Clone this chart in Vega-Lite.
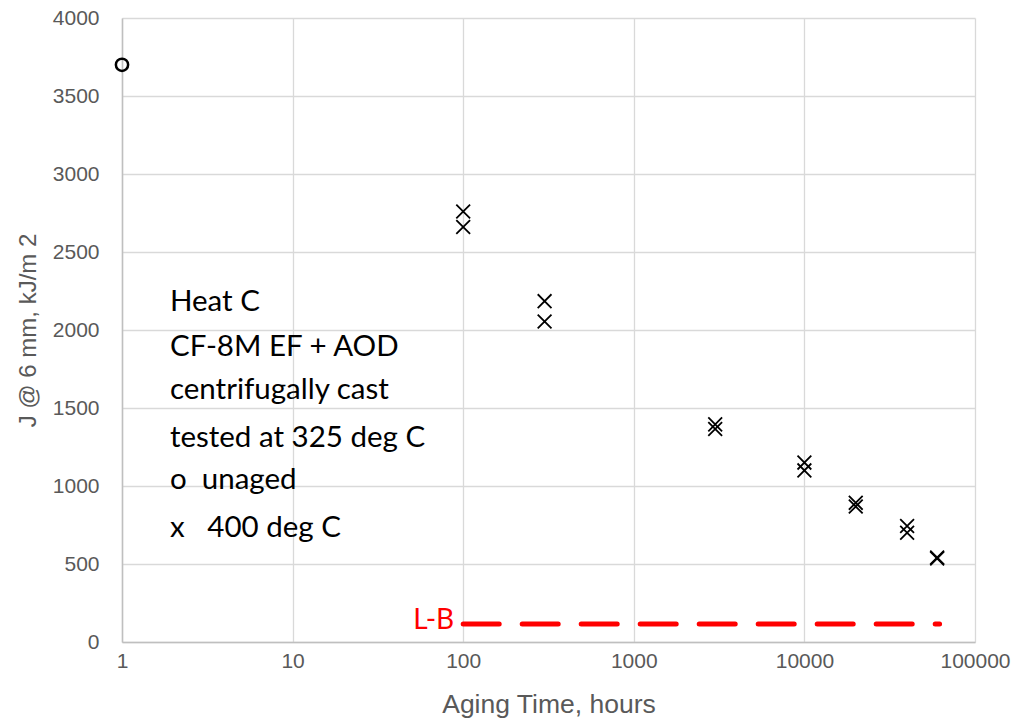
{
  "$schema": "https://vega.github.io/schema/vega-lite/v6.json",
  "width": 853,
  "height": 624,
  "autosize": "none",
  "padding": {"left": 122, "top": 18, "right": 45, "bottom": 81},
  "background": "white",
  "config": {
    "view": {"stroke": null},
    "axis": {"labelFont": "Liberation Sans", "titleFont": "Liberation Sans", "labelColor": "#595959", "titleColor": "#595959", "titleFontWeight": "normal", "gridColor": "#d9d9d9", "gridWidth": 1.3, "domainColor": "#bfbfbf", "domainWidth": 1.5, "ticks": false, "labelFlush": false, "labelOverlap": false}
  },
  "datasets": {
    "points": [
      {"hours": 1, "J": 3700, "group": "unaged"},
      {"hours": 100, "J": 2760, "group": "400 deg C"},
      {"hours": 100, "J": 2660, "group": "400 deg C"},
      {"hours": 300, "J": 2185, "group": "400 deg C"},
      {"hours": 300, "J": 2055, "group": "400 deg C"},
      {"hours": 3000, "J": 1395, "group": "400 deg C"},
      {"hours": 3000, "J": 1365, "group": "400 deg C"},
      {"hours": 10000, "J": 1150, "group": "400 deg C"},
      {"hours": 10000, "J": 1100, "group": "400 deg C"},
      {"hours": 20000, "J": 892, "group": "400 deg C"},
      {"hours": 20000, "J": 868, "group": "400 deg C"},
      {"hours": 40000, "J": 743, "group": "400 deg C"},
      {"hours": 40000, "J": 700, "group": "400 deg C"},
      {"hours": 60000, "J": 542, "group": "400 deg C"},
      {"hours": 60000, "J": 536, "group": "400 deg C"}
    ],
    "lb": [
      {"hours": 100, "J": 115, "label": "L-B"},
      {"hours": 62000, "J": 115, "label": ""}
    ],
    "notes": [
      {"hours": 1.91, "J": 2179, "text": "Heat C"},
      {"hours": 1.91, "J": 1891, "text": "CF-8M EF + AOD"},
      {"hours": 1.91, "J": 1615, "text": "centrifugally cast"},
      {"hours": 1.91, "J": 1308, "text": "tested at 325 deg C"},
      {"hours": 1.91, "J": 1038, "text": "o\u00a0\u00a0unaged"},
      {"hours": 1.91, "J": 731, "text": "x\u00a0\u00a0\u00a0400 deg C"}
    ]
  },
  "encoding": {
    "x": {"field": "hours", "type": "quantitative", "scale": {"type": "log", "domain": [1, 100000]},
      "axis": {"values": [1, 10, 100, 1000, 10000, 100000], "format": "d", "labelFontSize": 21, "labelPadding": 8, "title": "Aging Time, hours", "titleFontSize": 26.5, "titlePadding": 20}},
    "y": {"field": "J", "type": "quantitative", "scale": {"domain": [0, 4000]},
      "axis": {"values": [0, 500, 1000, 1500, 2000, 2500, 3000, 3500, 4000], "format": "d", "labelFontSize": 21, "labelPadding": 23, "title": "J @ 6 mm, kJ/m 2", "titleFontSize": 24, "titlePadding": 12}}
  },
  "layer": [
    {
      "data": {"name": "lb"},
      "mark": {"type": "line", "color": "#ff0000", "strokeWidth": 5, "strokeDash": [36, 23], "strokeCap": "round"},
      "encoding": {}
    },
    {
      "data": {"name": "lb"},
      "transform": [{"filter": "datum.label != ''"}],
      "mark": {"type": "text", "color": "#ff0000", "font": "Lato", "fontSize": 28, "align": "right", "baseline": "middle", "dx": -9, "dy": -3},
      "encoding": {"text": {"field": "label"}}
    },
    {
      "data": {"name": "points"},
      "transform": [{"filter": "datum.group == 'unaged'"}],
      "mark": {"type": "point", "shape": "circle", "filled": false, "color": "black", "strokeWidth": 2.5, "size": 150, "opacity": 1, "clip": false}
    },
    {
      "data": {"name": "points"},
      "transform": [{"filter": "datum.group != 'unaged'"}],
      "mark": {"type": "point", "shape": "M-1,-1L1,1M-1,1L1,-1", "filled": false, "color": "black", "strokeWidth": 1.8, "size": 190, "opacity": 1}
    },
    {
      "data": {"name": "notes"},
      "mark": {"type": "text", "font": "Lato", "fontSize": 29.5, "align": "left", "baseline": "middle", "color": "black"},
      "encoding": {"text": {"field": "text"}}
    }
  ]
}
